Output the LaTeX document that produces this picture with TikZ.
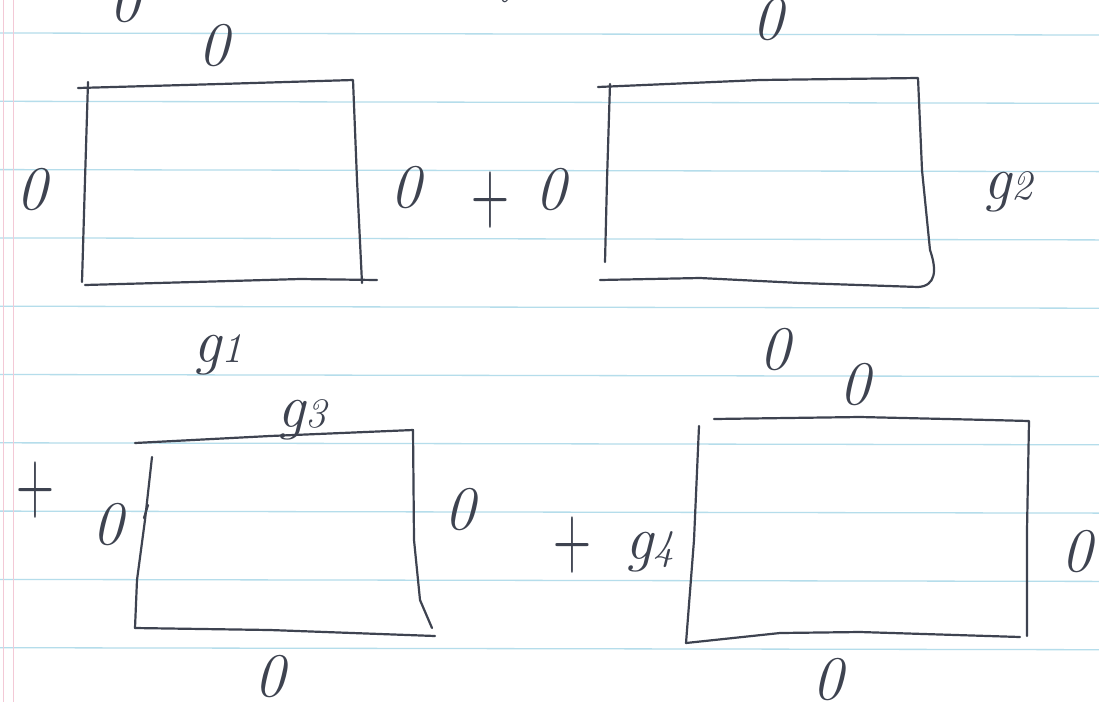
\documentclass[tikz,border=0pt]{standalone}
\definecolor{inkc}{HTML}{3E4350}
\definecolor{rulec}{HTML}{B5DDEB}
\definecolor{marginc}{HTML}{F3C9D6}
\newcommand{\gsub}[1]{g\kern1pt{\fontsize{42}{42}\selectfont #1}}
\tikzset{
  ink/.style={draw=inkc, line width=2.2pt, line cap=round, line join=round},
  lbl/.style={text=inkc, font=\fontsize{62}{62}\selectfont\itshape, inner sep=0pt},
  pluslbl/.style={lbl, font=\fontsize{62}{62}\selectfont, yscale=1.45, xscale=0.85},
  rulel/.style={draw=rulec, line width=1.3pt},
  marginl/.style={draw=marginc, line width=1pt}
}
\begin{document}
\begin{tikzpicture}[x=1pt,y=-1pt]
\useasboundingbox (0,0) rectangle (1099,702);
\clip (0,0) rectangle (1099,702);
\fill[white] (0,0) rectangle (1099,702);
% ruled paper
\foreach \k in {0,...,9}{
  \draw[rulel] (0,{33+68.3*\k}) -- (1099,{35+68.3*\k});
}
\draw[marginl] (3,0) -- (3,702);
\draw[marginl] (13,0) -- (13,702);

% partial marks at the top edge
\node[lbl] (cutA) at (125,2) {0};
\node[lbl, xscale=0.5] (cutB) at (505,-18) {0};
\node[pluslbl] (cutC) at (1003,-28) {+};

% box 1
\draw[ink] (78,88) -- (220,84) -- (353,80) -- (357,180) -- (362,283);
\draw[ink] (88,82) -- (85,180) -- (82,282);
\draw[ink] (85,285) -- (230,281) -- (300,279) -- (377,280);
\node[lbl] (b1top) at (214,46) {0};
\node[lbl] (b1left) at (32,190) {0};
\node[lbl] (b1right) at (406,188) {0};
\node[lbl] (b1bot) at (218,355) {\gsub{1}};
\node[pluslbl] (plus1) at (490,200) {+};

% box 2
\draw[ink] (598,87) -- (760,80) -- (918,78) -- (922,170) -- (930,250) .. controls (937,270) and (936,286) .. (918,287);
\draw[ink] (610,84) -- (607,180) -- (605,262);
\draw[ink] (600,280) -- (700,278) -- (800,283) -- (918,287);
\node[lbl] (b2left) at (551,190) {0};
\node[lbl] (b2top) at (768,20) {0};
\node[lbl] (b2right) at (1008,192) {\gsub{2}};
\node[lbl] (b2bot) at (775,350) {0};

% box 3
\node[pluslbl] (plus2) at (35,490) {+};
\draw[ink] (135,443) -- (270,436) -- (413,430) -- (414,540) -- (420,600) -- (432,628);
\draw[ink] (152,457) -- (145,520) -- (137,580) -- (135,628);
\draw[ink] (148,505) -- (144,518);
\draw[ink] (135,628) -- (270,630) -- (435,636);
\node[lbl] (b3top) at (302,420) {\gsub{3}};
\node[lbl] (b3left) at (108,525) {0};
\node[lbl] (b3right) at (460,510) {0};
\node[lbl] (b3bot) at (270,677) {0};

% box 4
\node[lbl] (b4top) at (855,385) {0};
\draw[ink] (714,419) -- (860,417) -- (990,420) -- (1029,421) -- (1027,530) -- (1027,636);
\draw[ink] (699,426) -- (694,540) -- (686,643);
\draw[ink] (686,643) -- (780,633) -- (860,632) -- (1020,637);
\node[pluslbl] (plus3) at (572,545) {+};
\node[lbl] (b4left) at (650,552) {\gsub{4}};
\node[lbl] (b4right) at (1077,552) {0};
\node[lbl] (b4bot) at (828,680) {0};
\end{tikzpicture}
\end{document}
